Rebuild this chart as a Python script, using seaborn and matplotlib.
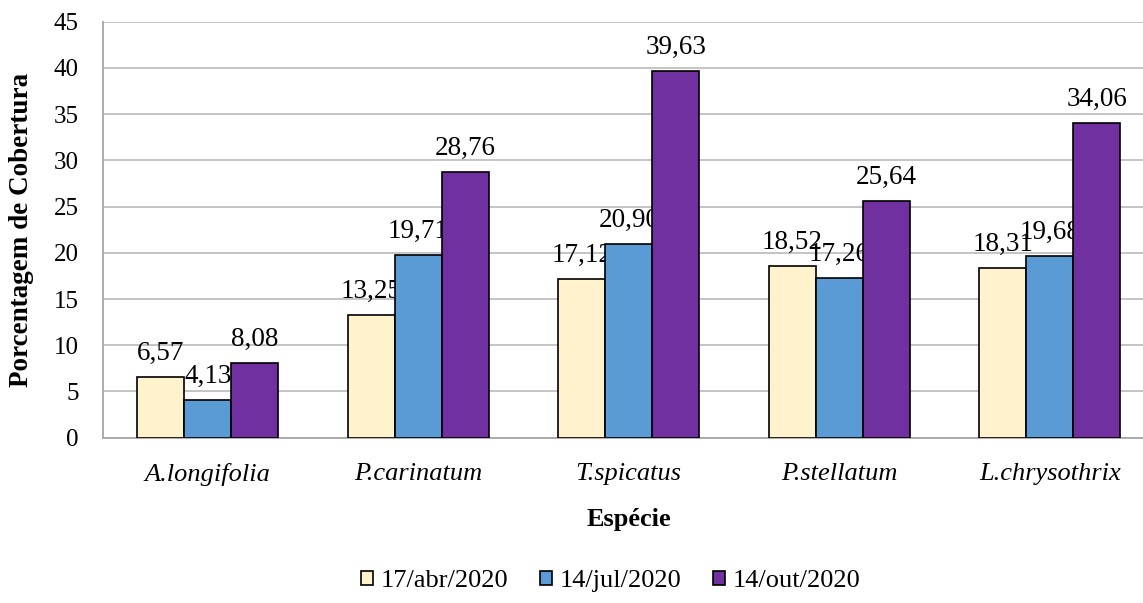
import matplotlib
matplotlib.use("Agg")
import matplotlib.pyplot as plt
import seaborn as sns
import pandas as pd
from matplotlib.patches import Patch

species = ["A.longifolia", "P.carinatum", "T.spicatus", "P.stellatum", "L.chrysothrix"]
dates = ["17/abr/2020", "14/jul/2020", "14/out/2020"]
abr = [6.57, 13.25, 17.12, 18.52, 18.31]
jul = [4.13, 19.71, 20.90, 17.26, 19.68]
out = [8.08, 28.76, 39.63, 25.64, 34.06]
colors = ["#FFF2CC", "#5B9BD5", "#7030A0"]

rows = []
for d, vals in zip(dates, [abr, jul, out]):
    for s, v in zip(species, vals):
        rows.append({"Espécie": s, "Data": d, "Valor": v})
df = pd.DataFrame(rows)

sns.set_style("white")
plt.rcParams["font.family"] = ["Liberation Serif", "DejaVu Serif"]
plt.rcParams["text.color"] = "black"
plt.rcParams["axes.labelcolor"] = "black"

fig = plt.figure(figsize=(11.43, 6.03), dpi=100)
ax = fig.add_axes([102.5 / 1143, 1 - 437.7 / 603, 1052.5 / 1143, 416 / 603])

sns.barplot(data=df, x="Espécie", y="Valor", hue="Data", order=species,
            hue_order=dates, palette=colors, width=0.67, gap=0,
            edgecolor="black", linewidth=1.2, saturation=1, errorbar=None,
            legend=False, ax=ax, zorder=3)

for cont, vals in zip(ax.containers, [abr, jul, out]):
    for p in cont.patches:
        p.set_zorder(3)
    labs = [f"{v:.2f}".replace(".", ",") for v in vals]
    texts = ax.bar_label(cont, labels=labs, padding=8.0, fontsize=19.5, color="black")
    for t in texts:
        t.set_zorder(2)

ax.set_xlim(-0.5, 4.5)
ax.set_ylim(0, 45)
ax.set_yticks(range(0, 46, 5))
ax.yaxis.grid(True, color="#BFBFBF", linewidth=1.3, zorder=0)
ax.set_axisbelow(True)
for side in ["top", "right"]:
    ax.spines[side].set_visible(False)
for side in ["left", "bottom"]:
    ax.spines[side].set_color("#A6A6A6")
    ax.spines[side].set_linewidth(1.3)
ax.tick_params(axis="both", length=0, labelsize=18, colors="black")
ax.tick_params(axis="y", pad=17)
ax.tick_params(axis="x", pad=18)
for lbl in ax.get_xticklabels():
    lbl.set_fontstyle("italic")
    lbl.set_fontsize(19)
ax.set_xlabel("Espécie", fontsize=19, fontweight="bold", labelpad=16)
ax.set_ylabel("Porcentagem de Cobertura", fontsize=19.5, fontweight="bold", labelpad=14)

handles = [Patch(facecolor=c, edgecolor="black", linewidth=1.2) for c in colors]
fig.legend(handles, dates, loc="center", bbox_to_anchor=(611 / 1143, 1 - 581 / 603),
           ncol=3, frameon=False, fontsize=19, handlelength=0.45, handleheight=0.45,
           handletextpad=0.3, columnspacing=1.2)

fig.savefig("out.png", dpi=100)
